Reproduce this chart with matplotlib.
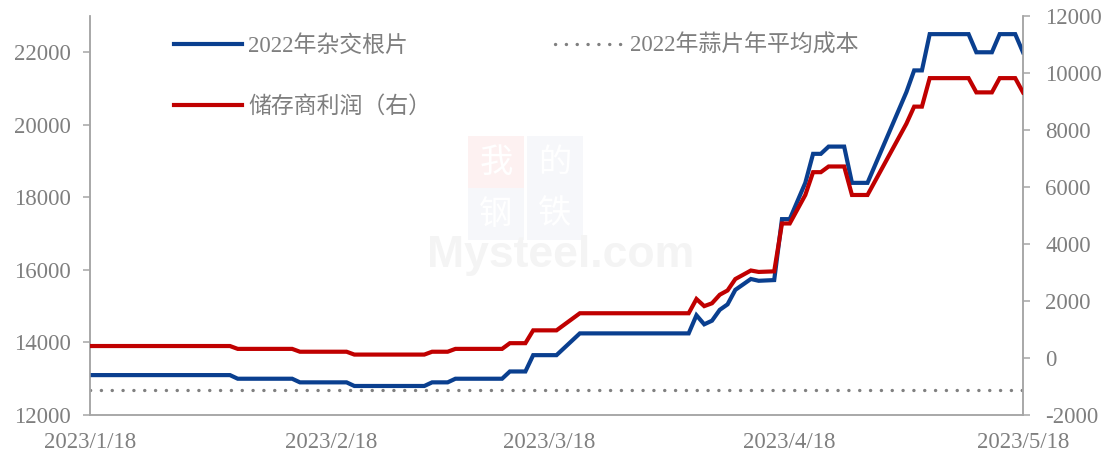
import matplotlib
matplotlib.use("Agg")
import matplotlib.pyplot as plt
from matplotlib.ticker import FuncFormatter
from matplotlib.patches import Rectangle
import pandas as pd

plt.rcParams['axes.unicode_minus'] = False

# ---------------- data ----------------
dates = ["2023-01-18", "2023-02-05", "2023-02-06", "2023-02-13", "2023-02-14",
         "2023-02-20", "2023-02-21", "2023-03-02", "2023-03-03", "2023-03-05",
         "2023-03-06", "2023-03-12", "2023-03-13", "2023-03-15", "2023-03-16",
         "2023-03-19", "2023-03-22", "2023-04-05", "2023-04-06", "2023-04-07",
         "2023-04-08", "2023-04-09", "2023-04-10", "2023-04-11", "2023-04-12",
         "2023-04-13", "2023-04-14", "2023-04-16", "2023-04-17", "2023-04-18",
         "2023-04-19", "2023-04-20", "2023-04-21", "2023-04-22", "2023-04-23",
         "2023-04-25", "2023-04-26", "2023-04-28", "2023-05-03", "2023-05-04",
         "2023-05-05", "2023-05-06", "2023-05-11", "2023-05-12", "2023-05-14",
         "2023-05-15", "2023-05-17", "2023-05-18"]

price_hybrid = [13100, 13100, 13000, 13000, 12900, 12900, 12800, 12800, 12900, 12900,
                13000, 13000, 13200, 13200, 13650, 13650, 14250, 14250, 14750, 14500,
                14600, 14900, 15050, 15450, 15600, 15750, 15700, 15720, 17400, 17400,
                17900, 18400, 19200, 19200, 19400, 19400, 18400, 18400, 20900, 21500,
                21500, 22500, 22500, 22000, 22000, 22500, 22500, 22000]

profit = [420, 420, 320, 320, 220, 220, 120, 120, 220, 220,
          320, 320, 520, 520, 970, 970, 1570, 1570, 2070, 1820,
          1920, 2220, 2370, 2770, 2920, 3070, 3020, 3040, 4720, 4720,
          5220, 5720, 6520, 6520, 6720, 6720, 5720, 5720, 8220, 8820,
          8820, 9820, 9820, 9320, 9320, 9820, 9820, 9320]

avg_cost_2022 = 12680

tick_dates = ["2023-01-18", "2023-02-18", "2023-03-18", "2023-04-18", "2023-05-18"]
tick_labels = ["2023/1/18", "2023/2/18", "2023/3/18", "2023/4/18", "2023/5/18"]

label_hybrid = "2022年杂交根片"
label_cost = "2022年蒜片年平均成本"
label_profit = "储存商利润（右）"

# ---------------- style ----------------
BLUE = "#0a3f8f"
RED = "#c00000"
GRAY_TXT = "#7f7f7f"
SPINE = "#a6a6a6"
FONT_NUM = ["Liberation Serif", "Noto Sans CJK SC"]
W, H = 1108, 457

x = pd.to_datetime(dates)
xt = pd.to_datetime(tick_dates)

fig = plt.figure(figsize=(W / 100, H / 100), dpi=100)
ax = fig.add_axes([90 / W, 1 - 415 / H, (1023 - 90) / W, (415 - 16) / H])
ax2 = ax.twinx()

# faint watermark
for ch, (px, py), fc in [("我", (496, 162), "#fdf1f1"), ("的", (555, 162), "#f6f7fa"),
                         ("钢", (496, 214), "#f6f7fa"), ("铁", (555, 214), "#f6f7fa")]:
    fig.patches.append(Rectangle(((px - 28) / W, 1 - (py + 26) / H), 56 / W, 52 / H,
                                 transform=fig.transFigure, fc=fc, ec="none", zorder=0))
    fig.text(px / W, 1 - py / H, ch, fontsize=24, color="white",
             family=["Noto Sans CJK SC"], ha="center", va="center", zorder=0.5)
fig.text(561 / W, 1 - 256 / H, "Mysteel.com", fontsize=32, color="#f4f4f4",
         family=["Liberation Sans"], weight="bold", ha="center", va="center", zorder=0.5)
ax.patch.set_alpha(0)
ax2.patch.set_alpha(0)

l_cost = ax.axhline(avg_cost_2022, color="#808080", lw=2.4,
                    linestyle=(0, (0.05, 3.2)), dash_capstyle="round", label=label_cost)
l_blue, = ax.plot(x, price_hybrid, color=BLUE, lw=3, label=label_hybrid,
                  solid_joinstyle="miter", zorder=3)
l_red, = ax2.plot(x, profit, color=RED, lw=3, label=label_profit,
                  solid_joinstyle="miter", zorder=3)

ax.set_xlim(pd.Timestamp("2023-01-18"), pd.Timestamp("2023-05-18"))
ax.set_ylim(12000, 23000)
ax2.set_ylim(-2000, 12000)

ax.set_yticks(range(12000, 22001, 2000))
ax2.set_yticks(range(-2000, 12001, 2000))
fmt = FuncFormatter(lambda v, p: f"{int(v)}")
ax.yaxis.set_major_formatter(fmt)
ax2.yaxis.set_major_formatter(fmt)

ax.set_xticks(xt)
ax.set_xticklabels(tick_labels)

for a in (ax, ax2):
    a.spines["top"].set_visible(False)
    for s in ["left", "right", "bottom"]:
        a.spines[s].set_color(SPINE)
        a.spines[s].set_linewidth(1.1)

ax.tick_params(axis="y", which="major", length=5, width=1.1, color=SPINE,
               labelsize=16.5, labelcolor=GRAY_TXT, pad=9)
ax2.tick_params(axis="y", which="major", length=5, width=1.1, color=SPINE,
                labelsize=16.5, labelcolor=GRAY_TXT, pad=11)
ax.tick_params(axis="x", length=0, labelsize=16.5, labelcolor=GRAY_TXT, pad=12)
for lab in ax.get_xticklabels() + ax.get_yticklabels() + ax2.get_yticklabels():
    lab.set_family(FONT_NUM)

leg = ax2.legend([l_blue, l_red, l_cost], [label_hybrid, label_profit, label_cost],
                 ncol=2, loc="upper left", bbox_to_anchor=(174 / W, 1 - 35 / H),
                 bbox_transform=fig.transFigure, frameon=False, borderpad=0,
                 borderaxespad=0, handlelength=2.95, handletextpad=0.3,
                 columnspacing=5.4, labelspacing=1.7,
                 prop=dict(family=FONT_NUM, size=16.5))
for t in leg.get_texts():
    t.set_color(GRAY_TXT)

fig.savefig("out.png", dpi=100)
